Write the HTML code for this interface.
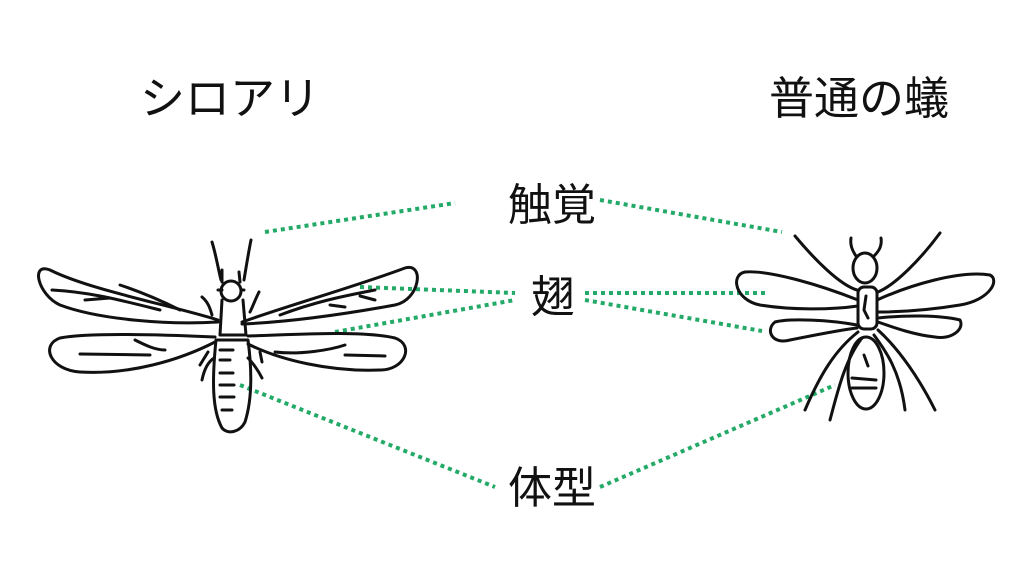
<!DOCTYPE html>
<html><head><meta charset="utf-8"><style>
html,body{margin:0;padding:0;background:#fff;}
svg{display:block}
text{font-family:"Liberation Sans","Noto Sans CJK JP",sans-serif;fill:#111}
</style></head><body>
<svg width="1024" height="576" viewBox="0 0 1024 576" xmlns="http://www.w3.org/2000/svg">
<rect width="1024" height="576" fill="#fff"/>
<text x="230" y="114" font-size="45" text-anchor="middle">シロアリ</text>
<text x="859" y="114" font-size="45" text-anchor="middle">普通の蟻</text>
<text x="552" y="220" font-size="44" text-anchor="middle">触覚</text>
<text x="553" y="312" font-size="44" text-anchor="middle">翅</text>
<text x="552" y="503" font-size="44" text-anchor="middle">体型</text>
<g stroke="#22aa66" stroke-width="4" stroke-dasharray="4 4" fill="none">
<line x1="265" y1="232" x2="455" y2="203"/>
<line x1="600" y1="200" x2="782" y2="232"/>
<line x1="360" y1="287" x2="515" y2="293"/>
<line x1="335" y1="332" x2="515" y2="300"/>
<line x1="585" y1="293" x2="765" y2="293"/>
<line x1="585" y1="300" x2="762" y2="331"/>
<line x1="240" y1="385" x2="495" y2="487"/>
<line x1="600" y1="487" x2="835" y2="385"/>
</g>
<g stroke="#111" stroke-width="3" fill="none" stroke-linecap="round" stroke-linejoin="round">
<path d="M218,320 C170,305 90,290 50,270 C30,262 38,295 60,305 C100,320 170,325 218,322"/>
<path d="M242,322 C290,305 360,285 405,268 C425,262 420,300 395,305 C340,315 290,322 242,324"/>
<path d="M215,337 C170,335 90,332 60,338 C40,345 50,370 80,372 C130,375 180,360 215,342"/>
<path d="M248,336 C290,335 360,330 395,338 C415,345 405,370 380,370 C330,372 280,360 248,344"/>
<path d="M52,290 C90,292 120,300 160,310 M85,300 L110,298 M120,285 C150,295 170,305 180,310 M80,354 L150,355 M135,340 C145,345 155,350 165,350 M280,315 C320,300 350,295 375,290 M330,305 L345,307 M360,296 L375,300 M275,352 C300,355 330,350 345,345 M345,355 L385,356"/>
<circle cx="231" cy="291" r="10"/>
<path d="M222,300 L220,335 L246,335 L243,300 M222,290 L218,290 M241,290 L244,290"/>
<path d="M216,340 C212,380 212,410 222,428 C228,435 240,432 245,422 C252,400 252,370 248,340 Z"/>
<path d="M220,350 L233,350 M220,360 L230,360 M220,373 L233,373 M220,385 L234,385 M220,397 L234,397 M222,410 L232,410"/>
<path d="M212,242 C216,255 218,268 221,280 M251,240 C248,255 246,268 244,280 M222,270 L222,282 M239,272 L240,282"/>
<path d="M202,297 C208,302 210,308 212,315 M259,292 C255,300 253,306 250,312 M200,365 L208,352 M202,380 C204,370 208,362 214,358 M260,352 L262,362 M262,378 C258,370 252,362 248,358"/>
<ellipse cx="865" cy="268" rx="12" ry="15"/>
<path d="M856,256 C852,250 850,245 851,238 M874,256 C880,250 882,245 881,238"/>
<rect x="858" y="287" width="19" height="42" rx="6"/>
<path d="M866,296 L864,310 L868,318"/>
<ellipse cx="866" cy="373" rx="18" ry="36"/>
<path d="M852,378 L876,380 M852,388 L876,388 M864,355 L868,366"/>
<path d="M858,300 C820,285 770,270 745,272 C730,275 735,300 760,305 C790,310 830,310 858,306"/>
<path d="M877,300 C910,285 960,270 990,275 C1000,280 990,300 960,305 C930,310 900,312 877,312"/>
<path d="M857,325 C830,320 790,318 775,322 C765,330 772,345 790,340 C815,335 840,330 857,328"/>
<path d="M878,318 C905,315 940,315 960,320 C965,330 950,340 935,337 C915,335 895,328 878,322"/>
<path d="M795,236 C815,260 840,285 857,290 M940,233 C920,260 895,285 878,292 M858,332 C835,350 820,375 805,410 M862,338 C845,360 838,390 830,420 M874,335 C885,350 900,370 905,410 M878,330 C900,350 920,380 935,410"/>
</g>
</svg>
</body></html>
